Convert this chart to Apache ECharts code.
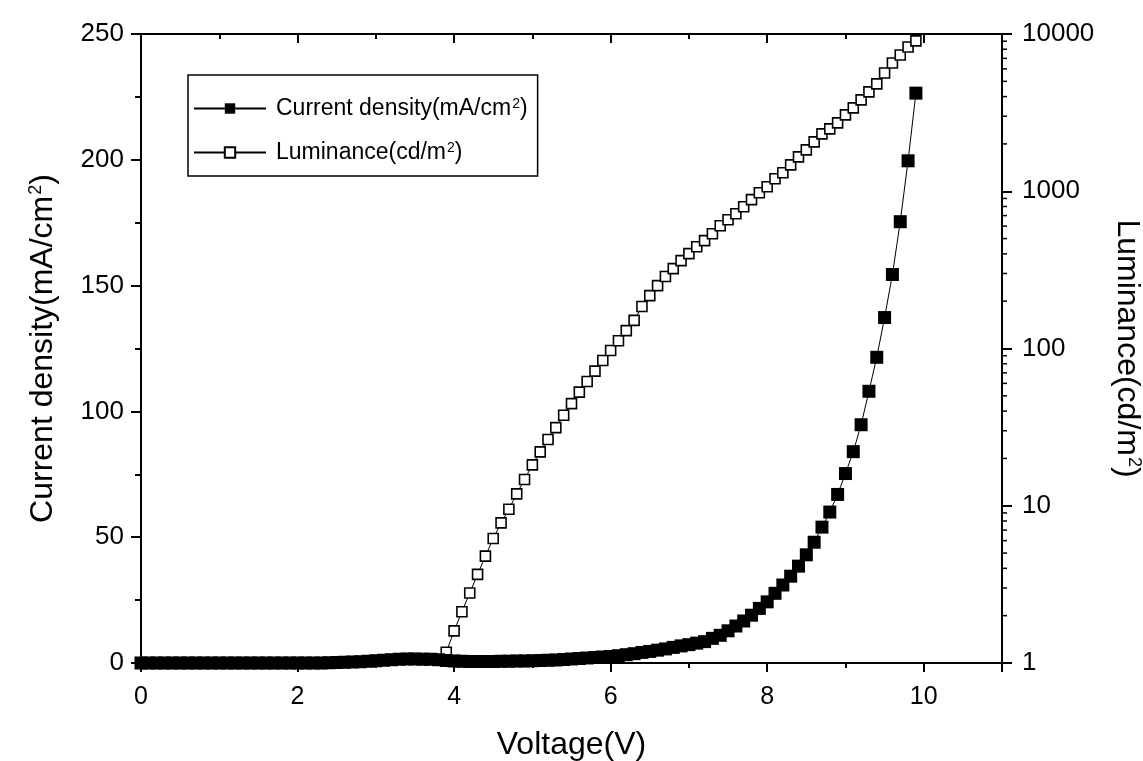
<!DOCTYPE html>
<html>
<head>
<meta charset="utf-8">
<title>Current density and luminance vs voltage</title>
<script src="https://cdn.jsdelivr.net/npm/echarts@6/dist/echarts.min.js"></script>
<style>
    html, body { margin: 0; padding: 0; background: #fff; }
    #jv_chart { width: 1143px; height: 761px; }
</style>
</head>
<body>
<div id="jv_chart"></div>
<script>

// Chart data
// ------------------------------

// Voltage (V), one reading every 0.1 V
var voltage = [
    0.0, 0.1, 0.2, 0.3, 0.4, 0.5, 0.6, 0.7, 0.8, 0.9,
    1.0, 1.1, 1.2, 1.3, 1.4, 1.5, 1.6, 1.7, 1.8, 1.9,
    2.0, 2.1, 2.2, 2.3, 2.4, 2.5, 2.6, 2.7, 2.8, 2.9,
    3.0, 3.1, 3.2, 3.3, 3.4, 3.5, 3.6, 3.7, 3.8, 3.9,
    4.0, 4.1, 4.2, 4.3, 4.4, 4.5, 4.6, 4.7, 4.8, 4.9,
    5.0, 5.1, 5.2, 5.3, 5.4, 5.5, 5.6, 5.7, 5.8, 5.9,
    6.0, 6.1, 6.2, 6.3, 6.4, 6.5, 6.6, 6.7, 6.8, 6.9,
    7.0, 7.1, 7.2, 7.3, 7.4, 7.5, 7.6, 7.7, 7.8, 7.9,
    8.0, 8.1, 8.2, 8.3, 8.4, 8.5, 8.6, 8.7, 8.8, 8.9,
    9.0, 9.1, 9.2, 9.3, 9.4, 9.5, 9.6, 9.7, 9.8, 9.9
];

// Current density (mA/cm2), same voltages
var currentDensity = [
    0, 0, 0, 0, 0, 0, 0, 0, 0, 0,
    0, 0, 0, 0, 0, 0, 0, 0, 0, 0,
    0, 0, 0, 0, 0.1, 0.2, 0.3, 0.4, 0.5, 0.7,
    0.9, 1.1, 1.3, 1.5, 1.6, 1.6, 1.5, 1.5, 1.3, 1.0,
    0.8, 0.7, 0.6, 0.6, 0.6, 0.6, 0.7, 0.7, 0.8, 0.8,
    0.9, 1.0, 1.1, 1.2, 1.4, 1.6, 1.8, 2.0, 2.2, 2.4,
    2.6, 2.9, 3.3, 3.7, 4.2, 4.6, 5.1, 5.6, 6.2, 6.8,
    7.3, 7.9, 8.5, 9.8, 11.0, 12.8, 14.7, 16.7, 19.0, 21.7,
    24.3, 27.7, 31.0, 34.5, 38.5, 43.0, 48.0, 54.0, 60.0, 67.0,
    75.3, 84.0, 94.7, 108.0, 121.5, 137.3, 154.4, 175.4, 199.6, 226.5
];

// Luminance (cd/m2), recorded from 3.9 V on
var lumVoltage = [
    3.9, 4.0, 4.1, 4.2, 4.3, 4.4, 4.5, 4.6, 4.7, 4.8, 4.9,
    5.0, 5.1, 5.2, 5.3, 5.4, 5.5, 5.6, 5.7, 5.8, 5.9,
    6.0, 6.1, 6.2, 6.3, 6.4, 6.5, 6.6, 6.7, 6.8, 6.9,
    7.0, 7.1, 7.2, 7.3, 7.4, 7.5, 7.6, 7.7, 7.8, 7.9,
    8.0, 8.1, 8.2, 8.3, 8.4, 8.5, 8.6, 8.7, 8.8, 8.9,
    9.0, 9.1, 9.2, 9.3, 9.4, 9.5, 9.6, 9.7, 9.8, 9.9
];
var luminance = [
    1.17, 1.60, 2.12, 2.79, 3.66, 4.78, 6.19, 7.78, 9.50, 11.9, 14.7,
    18.2, 22.0, 26.4, 31.4, 37.6, 44.6, 52.8, 61.7, 71.8, 83.9,
    97.1, 112, 130, 151, 185, 217, 251, 287, 322, 362,
    401, 444, 485, 537, 604, 659, 720, 797, 884, 978,
    1068, 1200, 1310, 1472, 1655, 1834, 2061, 2316, 2494, 2723,
    3062, 3390, 3810, 4283, 4815, 5654, 6543, 7359, 8267, 9036
];

// Tick values
var xTicks = [0, 2, 4, 6, 8, 10];
var lumMinorTicks = [
    2, 3, 4, 5, 6, 7, 8, 9,
    20, 30, 40, 50, 60, 70, 80, 90,
    200, 300, 400, 500, 600, 700, 800, 900,
    2000, 3000, 4000, 5000, 6000, 7000, 8000, 9000
];

var seriesNames = ['Current density(mA/cm2)', 'Luminance(cd/m2)'];


// Setup chart
// ------------------------------

var jv_element = document.getElementById('jv_chart');
var jv_chart = echarts.init(jv_element, null, { renderer: 'canvas' });

var fontFamily = '"Liberation Sans", Arial, sans-serif';
var lineColor = '#000';
var xMax = 11;

var pairs = function(xs, ys) {
    return xs.map(function(x, i) { return [x, ys[i]]; });
};

var supRich = function(size) {
    return {
        sup: { fontSize: size, verticalAlign: 'top', lineHeight: size, padding: [0, 0, Math.round(size * 1.1), 1] }
    };
};

// Axis building blocks
var baseX = function(position, interval, tickLen, inside, showLine, showLabel) {
    return {
        type: 'value',
        position: position,
        min: 0,
        max: xMax,
        interval: interval,
        axisLine: { show: showLine, onZero: false, lineStyle: { color: lineColor, width: 2 } },
        axisTick: { show: true, inside: inside, length: tickLen, lineStyle: { color: lineColor, width: 2 } },
        axisLabel: {
            show: showLabel,
            color: '#000',
            fontFamily: fontFamily,
            fontSize: 25,
            margin: 22,
            formatter: function(v) {
                return xTicks.indexOf(v) >= 0 ? String(v) : '';
            }
        },
        splitLine: { show: false }
    };
};

var xAxes = [
    baseX('bottom', 1, 5, false, true, true),
    baseX('bottom', 2, 9, false, false, false),
    baseX('top', 1, 5, true, true, false),
    baseX('top', 2, 9, true, false, false)
];
xAxes[0].name = 'Voltage(V)';
xAxes[0].nameLocation = 'middle';
xAxes[0].nameGap = 66;
xAxes[0].nameTextStyle = { color: '#000', fontFamily: fontFamily, fontSize: 32 };

var yAxes = [{
    type: 'value',
    position: 'left',
    min: 0,
    max: 250,
    interval: 50,
    name: 'Current density(mA/cm{sup|2})',
    nameLocation: 'middle',
    nameGap: 82,
    nameTextStyle: { color: '#000', fontFamily: fontFamily, fontSize: 32, rich: supRich(18) },
    axisLine: { show: true, onZero: false, lineStyle: { color: lineColor, width: 2 } },
    axisTick: { show: true, length: 10, lineStyle: { color: lineColor, width: 2 } },
    minorTick: { show: true, splitNumber: 2, length: 6, lineStyle: { color: lineColor, width: 2 } },
    axisLabel: { color: '#000', fontFamily: fontFamily, fontSize: 26, margin: 17 },
    splitLine: { show: false }
}, {
    type: 'log',
    logBase: 10,
    position: 'right',
    min: 1,
    max: 10000,
    name: 'Luminance(cd/m{sup|2})',
    nameLocation: 'middle',
    nameRotate: -90,
    nameGap: 104,
    nameTextStyle: { color: '#000', fontFamily: fontFamily, fontSize: 32, rich: supRich(18) },
    axisLine: { show: true, onZero: false, lineStyle: { color: lineColor, width: 2 } },
    axisTick: { show: true, length: 10, lineStyle: { color: lineColor, width: 2 } },
    axisLabel: {
        color: '#000', fontFamily: fontFamily, fontSize: 26, margin: 20,
        formatter: function(v) { return String(v); }
    },
    splitLine: { show: false }
}];

// Minor ticks of the log axis (2..9 of every decade), drawn on the right edge
var renderMinorTick = function(params, api) {
    var p = api.coord([api.value(0), api.value(1)]);
    return {
        type: 'line',
        shape: { x1: p[0], y1: p[1], x2: p[0] + 5, y2: p[1] },
        style: { stroke: lineColor, lineWidth: 1.5 }
    };
};

jv_chart.setOption({
    animation: false,
    backgroundColor: '#fff',
    textStyle: { fontFamily: fontFamily },

    grid: {
        left: 141, right: 141, top: 34, bottom: 98,
        containLabel: false,
        outerBoundsMode: 'none'
    },

    legend: {
        data: seriesNames,
        orient: 'vertical',
        left: 188,
        top: 75,
        itemWidth: 72,
        itemHeight: 13,
        itemGap: 15,
        padding: [22, 10, 6, 5],
        borderColor: '#000',
        borderWidth: 1.5,
        borderRadius: 0,
        backgroundColor: '#fff',
        formatter: function(name) {
            return name.replace('cm2', 'cm{sup|2}').replace('m2)', 'm{sup|2})');
        },
        textStyle: {
            color: '#000',
            fontFamily: fontFamily,
            fontSize: 23,
            padding: [0, 0, 0, 5],
            rich: supRich(14)
        }
    },

    xAxis: xAxes,
    yAxis: yAxes,

    series: [{
        name: seriesNames[1],
        type: 'line',
        yAxisIndex: 1,
        data: pairs(lumVoltage, luminance),
        symbol: 'rect',
        symbolSize: 10,
        showAllSymbol: true,
        itemStyle: { color: '#fff', borderColor: '#000', borderWidth: 1.6 },
        lineStyle: { color: '#000', width: 1 },
        z: 2
    }, {
        name: seriesNames[0],
        type: 'line',
        data: pairs(voltage, currentDensity),
        symbol: 'rect',
        symbolSize: 13,
        showAllSymbol: true,
        itemStyle: { color: '#000' },
        lineStyle: { color: '#000', width: 1 },
        z: 3
    }, {
        name: 'lum-minor-ticks',
        type: 'custom',
        yAxisIndex: 1,
        silent: true,
        clip: false,
        data: lumMinorTicks.map(function(v) { return [xMax, v]; }),
        renderItem: renderMinorTick,
        z: 4
    }]
});

</script>
</body>
</html>
